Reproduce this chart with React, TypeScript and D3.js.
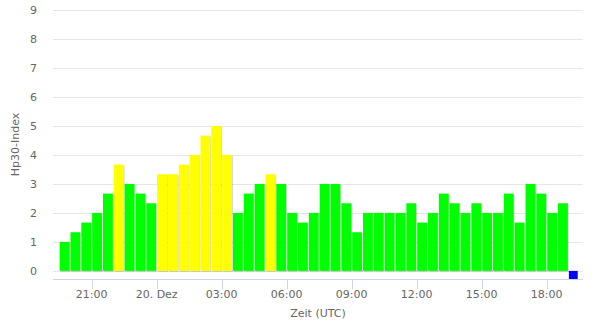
import React from "react";
import * as d3 from "d3";

const START = Date.UTC(2023, 11, 19, 19, 30);
const HALF_HOUR = 30 * 60 * 1000;

const hp30Values = [
  1.0, 1.333, 1.667, 2.0, 2.667, 3.667, 3.0, 2.667, 2.333, 3.333,
  3.333, 3.667, 4.0, 4.667, 5.0, 4.0, 2.0, 2.667, 3.0, 3.333,
  3.0, 2.0, 1.667, 2.0, 3.0, 3.0, 2.333, 1.333, 2.0, 2.0,
  2.0, 2.0, 2.333, 1.667, 2.0, 2.667, 2.333, 2.0, 2.333, 2.0,
  2.0, 2.667, 1.667, 3.0, 2.667, 2.0, 2.333,
];
const pendingSlots = [47];

const yTicks = [0, 1, 2, 3, 4, 5, 6, 7, 8, 9];
const xTickTimes = [
  Date.UTC(2023, 11, 19, 21), Date.UTC(2023, 11, 20, 0), Date.UTC(2023, 11, 20, 3),
  Date.UTC(2023, 11, 20, 6), Date.UTC(2023, 11, 20, 9), Date.UTC(2023, 11, 20, 12),
  Date.UTC(2023, 11, 20, 15), Date.UTC(2023, 11, 20, 18),
];
const xTickLabels = ["21:00", "20. Dez", "03:00", "06:00", "09:00", "12:00", "15:00", "18:00"];

const W = 598, H = 326;
const plotLeft = 53, plotRight = 583, plotTop = 10, axisY = 279;
const FONT = "'DejaVu Sans', sans-serif";

export default function App() {
  const x = d3.scaleUtc()
    .domain([Date.UTC(2023, 11, 19, 19, 13), Date.UTC(2023, 11, 20, 19, 40, 30)])
    .range([plotLeft, plotRight]);
  const y = d3.scaleLinear().domain([-0.28, 9]).range([axisY, plotTop]);
  const colorOf = (v: number) => (v > 3.1 ? "#ffff00" : "#00ff00");

  const slotLeft = (i: number) => x(START + i * HALF_HOUR);
  const step = x(START + HALF_HOUR) - x(START);
  const bw = step - 1;

  return (
    <svg width={W} height={H} style={{ position: "absolute", left: 0, top: 0, background: "#fff" }}>
      {yTicks.map((t) => (
        <g key={t}>
          <line x1={plotLeft} x2={plotRight} y1={Math.round(y(t)) + 0.5} y2={Math.round(y(t)) + 0.5} stroke="#e6e6e6" />
          <text x={37} y={y(t) + 4} textAnchor="end" fontSize={11} fill="#666" fontFamily={FONT}>{t}</text>
        </g>
      ))}
      {hp30Values.map((v, i) => (
        <g key={i}>
          <rect x={slotLeft(i) + 1.5} y={y(v) + 1} width={bw} height={y(0) - y(v)} fill="rgba(0,0,0,0.15)" />
          <rect x={slotLeft(i) + 0.5} y={y(v)} width={bw} height={y(0) - y(v)} fill={colorOf(v)} />
        </g>
      ))}
      {pendingSlots.map((i) => (
        <rect key={"p" + i} x={slotLeft(i) + 0.5} y={y(0)} width={bw - 1} height={y(-0.28) - y(0)} fill="#0000ff" />
      ))}
      <line x1={plotLeft} x2={plotRight} y1={axisY + 0.5} y2={axisY + 0.5} stroke="#ccd6eb" />
      {xTickTimes.map((t, i) => (
        <g key={t}>
          <line x1={Math.round(x(t)) + 0.5} x2={Math.round(x(t)) + 0.5} y1={axisY} y2={axisY + 10} stroke="#ccd6eb" />
          <text x={x(t)} y={298} textAnchor="middle" fontSize={11} fill="#666" fontFamily={FONT}>{xTickLabels[i]}</text>
        </g>
      ))}
      <text x={(plotLeft + plotRight) / 2} y={317} textAnchor="middle" fontSize={11} fill="#666" fontFamily={FONT}>Zeit (UTC)</text>
      <text transform={`translate(19,${(plotTop + axisY) / 2}) rotate(-90)`} textAnchor="middle" fontSize={11} fill="#666" fontFamily={FONT}>Hp30-Index</text>
    </svg>
  );
}
